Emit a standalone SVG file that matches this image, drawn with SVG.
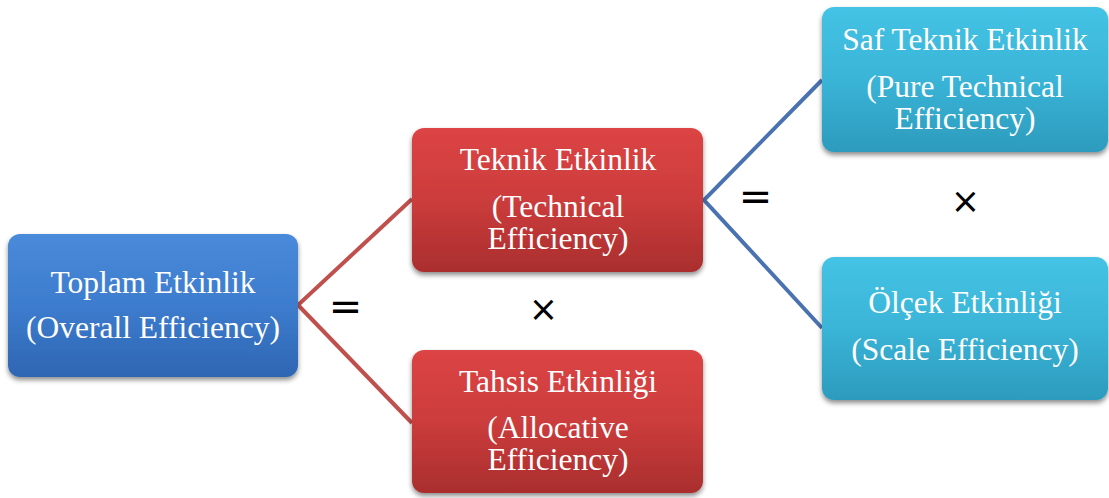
<svg xmlns="http://www.w3.org/2000/svg" width="1109" height="498" viewBox="0 0 1109 498">
<defs>
<linearGradient id="gBlue" x1="0" y1="0" x2="0" y2="1">
<stop offset="0" stop-color="#4a8ada"/><stop offset="0.5" stop-color="#3d7cce"/><stop offset="1" stop-color="#2e66b3"/>
</linearGradient>
<linearGradient id="gRed" x1="0" y1="0" x2="0" y2="1">
<stop offset="0" stop-color="#dc4444"/><stop offset="0.5" stop-color="#cc3c3c"/><stop offset="1" stop-color="#aa2e2e"/>
</linearGradient>
<linearGradient id="gCyan" x1="0" y1="0" x2="0" y2="1">
<stop offset="0" stop-color="#44c3e5"/><stop offset="0.5" stop-color="#3ab4d7"/><stop offset="1" stop-color="#2c9bbd"/>
</linearGradient>
<filter id="sh" x="-10%" y="-10%" width="120%" height="130%">
<feDropShadow dx="0" dy="3" stdDeviation="2.5" flood-color="#000" flood-opacity="0.45"/>
</filter>
<style>
.t{font-family:'Liberation Serif','DejaVu Serif',serif;font-size:31.5px;fill:#fff;text-anchor:middle}
.s{font-family:'DejaVu Sans',sans-serif;font-size:40px;fill:#000;text-anchor:middle}
.x{font-family:'DejaVu Sans',sans-serif;font-size:35px;fill:#000;text-anchor:middle}
.box{filter:url(#sh)}
.cr{stroke:#c0504d;stroke-width:4;fill:none}
.cb{stroke:#4a72b0;stroke-width:4;fill:none}
</style>
</defs>
<g id="connectors">
<polyline class="cr" points="412,199 298,305 412,423"/>
<polyline class="cb" points="822,80 704,200 822,328"/>
</g>
<g id="overall">
<rect class="box" x="8" y="234" width="290" height="143" rx="12" fill="url(#gBlue)"/>
<text class="t" x="153" y="293">Toplam Etkinlik</text>
<text class="t" x="153" y="338">(Overall Efficiency)</text>
</g>
<g id="technical">
<rect class="box" x="412" y="128" width="291" height="144" rx="12" fill="url(#gRed)"/>
<text class="t" x="558" y="170">Teknik Etkinlik</text>
<text class="t" x="558" y="217">(Technical</text>
<text class="t" x="558" y="249">Efficiency)</text>
</g>
<g id="allocative">
<rect class="box" x="412" y="350" width="291" height="143" rx="12" fill="url(#gRed)"/>
<text class="t" x="558" y="392">Tahsis Etkinliği</text>
<text class="t" x="558" y="438">(Allocative</text>
<text class="t" x="558" y="470">Efficiency)</text>
</g>
<g id="pure">
<rect class="box" x="822" y="7" width="286" height="145" rx="12" fill="url(#gCyan)"/>
<text class="t" x="965" y="50">Saf Teknik Etkinlik</text>
<text class="t" x="965" y="97">(Pure Technical</text>
<text class="t" x="965" y="129">Efficiency)</text>
</g>
<g id="scale">
<rect class="box" x="822" y="257" width="286" height="143" rx="12" fill="url(#gCyan)"/>
<text class="t" x="965" y="313">Ölçek Etkinliği</text>
<text class="t" x="965" y="360">(Scale Efficiency)</text>
</g>
<g id="symbols">
<text class="s" x="345.5" y="320">=</text>
<text class="x" x="543.5" y="321">×</text>
<text class="s" x="755.5" y="210">=</text>
<text class="x" x="965.5" y="213">×</text>
</g>
</svg>
